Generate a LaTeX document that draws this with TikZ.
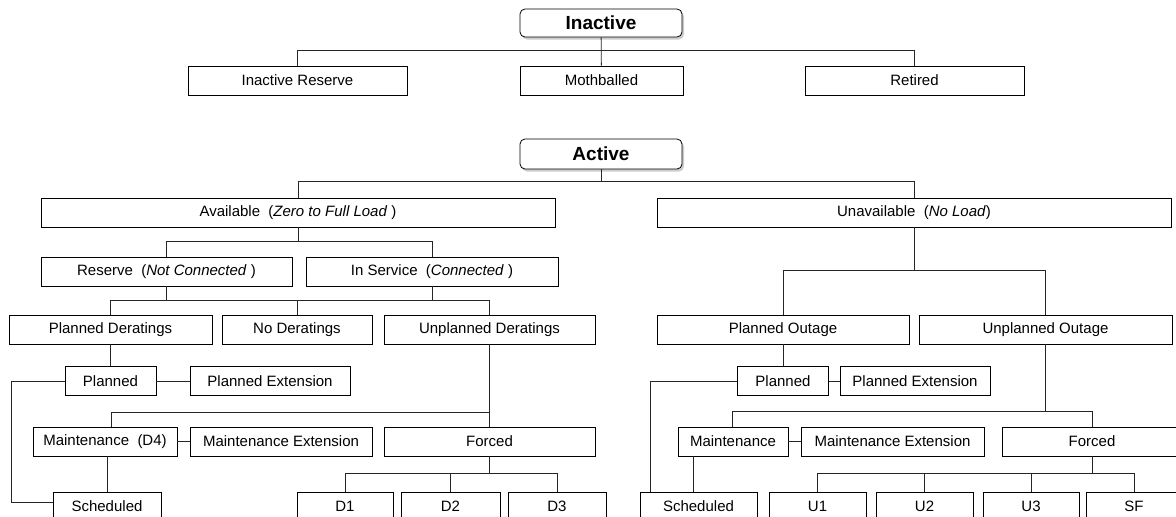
\documentclass[tikz,border=0pt]{standalone}
\usepackage{fontspec}
\setmainfont{Liberation Sans}
\usetikzlibrary{calc}
\usetikzlibrary{shadows}

\begin{document}
\begin{tikzpicture}[x=1pt,y=-1pt]
		\tikzstyle{Box} = [draw=black, line width=0.8pt, inner sep=0pt, minimum height=29pt, font=\fontsize{15}{17}\selectfont]
		\tikzstyle{Head} = [Box, rounded corners=5pt, fill=white, font=\fontsize{19}{21}\selectfont\bfseries,
			drop shadow={shadow xshift=2pt, shadow yshift=-2.5pt, fill=gray!80}]
		\tikzstyle{Link} = [line width=0.8pt, black!85]

		\useasboundingbox (0,0) rectangle (1176,517);

		%Draw inactive branch
		\node[Head, minimum width=162pt, minimum height=28pt](Inactive) at (601,23){Inactive};
		\node[Box, minimum width=219pt](InRes) at (297.5,80.5){Inactive Reserve};
		\node[Box, minimum width=163pt](Moth) at (601.5,80.5){Mothballed};
		\node[Box, minimum width=219pt](Ret) at (914.5,80.5){Retired};

		%Draw active branch
		\node[Head, minimum width=162pt, minimum height=30pt](Active) at (601,154){Active};
		\node[Box, minimum width=514pt](Avail) at (298,212.5){Available~~(\textit{Zero to Full Load}~)};
		\node[Box, minimum width=514pt](Unav) at (914,212.5){Unavailable~~(\textit{No Load})};

		\node[Box, minimum width=251pt](Res) at (166.5,271.5){Reserve~~(\textit{Not Connected}~)};
		\node[Box, minimum width=252pt](InServ) at (432,271.5){In Service~~(\textit{Connected}~)};

		\node[Box, minimum width=203pt](PDer) at (110.5,329.5){Planned Deratings};
		\node[Box, minimum width=150pt](NDer) at (297,329.5){No Deratings};
		\node[Box, minimum width=211pt](UDer) at (489.5,329.5){Unplanned Deratings};
		\node[Box, minimum width=252pt](POut) at (783,329.5){Planned Outage};
		\node[Box, minimum width=253pt](UOut) at (1045.5,329.5){Unplanned Outage};

		%Deratings side
		\node[Box, minimum width=91pt](Pl) at (110.5,381){Planned};
		\node[Box, minimum width=160pt](PlExt) at (270,381){Planned Extension};
		\node[Box, minimum width=144pt](Mnt) at (105,441.5){Maintenance~~(D4)};
		\node[Box, minimum width=182pt](MntExt) at (281,441.5){Maintenance Extension};
		\node[Box, minimum width=211pt](Frc) at (489.5,441.5){Forced};
		\node[Box, minimum width=108pt](Sch) at (107,506.5){Scheduled};
		\node[Box, minimum width=96pt](D1) at (345,506.5){D1};
		\node[Box, minimum width=99pt](D2) at (450.5,506.5){D2};
		\node[Box, minimum width=98pt](D3) at (557,506.5){D3};

		%Outage side
		\node[Box, minimum width=91pt](PlO) at (783,381){Planned};
		\node[Box, minimum width=150pt](PlExtO) at (915,381){Planned Extension};
		\node[Box, minimum width=110pt](MntO) at (733,441.5){Maintenance};
		\node[Box, minimum width=183pt](MntExtO) at (892.5,441.5){Maintenance Extension};
		\node[Box, minimum width=180pt](FrcO) at (1092,441.5){Forced};
		\node[Box, minimum width=117pt](SchO) at (698.5,506.5){Scheduled};
		\node[Box, minimum width=97pt](U1) at (817.5,506.5){U1};
		\node[Box, minimum width=97pt](U2) at (924.5,506.5){U2};
		\node[Box, minimum width=96pt](U3) at (1031,506.5){U3};
		\node[Box, minimum width=96pt](SF) at (1134,506.5){SF};

		%Draw links
		\begin{scope}[Link]
			\draw (Inactive) -- (Moth);
			\draw (InRes.north) -- ++(0,-15) -| (Ret.north);

			\draw (Active.south) -- ++(0,13);
			\draw (Avail.north) -- ++(0,-16) -| (Unav.north);

			\draw (Avail.south) -- ++(0,15);
			\draw (Res.north) -- ++(0,-15) -| (InServ.north);

			\draw (Res.south) -- ++(0,15);
			\draw (InServ.south) -- ++(0,15);
			\draw (NDer.north) -- ++(0,-14);
			\draw (PDer.north) -- ++(0,-14) -| (UDer.north);

			\draw (PDer) -- (Pl);
			\draw (Pl) -- (PlExt);
			\draw (Pl.west) -- ++(-53,0) |- ([yshift=4pt]Sch.west);

			\draw (UDer) -- (Frc);
			\draw ([xshift=6pt]Mnt.north) -- ++(0,-14) -| (Frc.north);
			\draw (Mnt) -- (MntExt);
			\draw (Sch.north |- Mnt.south) -- (Sch.north);

			\draw (Frc.south) -- ++(0,18);
			\draw (D2.north) -- ++(0,-18);
			\draw (D1.north) -- ++(0,-18) -| (D3.north);

			\draw (Unav.south) -- ++(0,44);
			\draw (POut.north) -- ++(0,-44) -| (UOut.north);

			\draw (POut) -- (PlO);
			\draw (PlO) -- (PlExtO);
			\draw (PlO.west) -| ([xshift=-48.5pt]SchO.north);

			\draw (UOut.south) -- ++(0,68);
			\draw ([xshift=-1pt]MntO.north) -- ++(0,-15) -| (FrcO.north);
			\draw (MntO) -- (MntExtO);
			\draw ([xshift=-40pt]MntO.south) -- ++(0,36);

			\draw (FrcO.south) -- ++(0,18);
			\draw (U2.north) -- ++(0,-18);
			\draw (U3.north) -- ++(0,-18);
			\draw (U1.north) -- ++(0,-18) -| (SF.north);
		\end{scope}
\end{tikzpicture}
\end{document}
